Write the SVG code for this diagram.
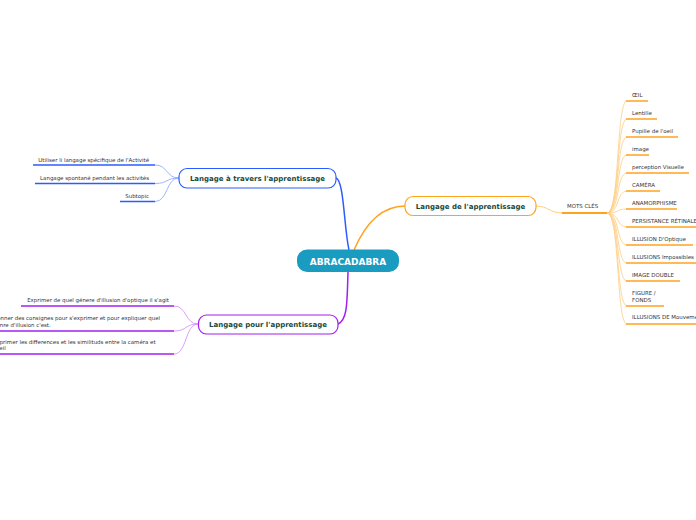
<svg xmlns="http://www.w3.org/2000/svg" width="696" height="520" viewBox="0 0 696 520">
<style>
.leaf{font-family:"DejaVu Sans",Verdana,sans-serif;font-size:5.45px;fill:#333;stroke:none}
.node{font-family:"DejaVu Sans",Verdana,sans-serif;font-size:7px;font-weight:bold;fill:#174a3a;text-anchor:middle;stroke:none}
.c{fill:none}
.bl{stroke:#2b5cff}.bll{stroke:#87a3ff}
.pu{stroke:#a21ff0}.pul{stroke:#cf8af5}
.or{stroke:#ffa31f}.orl{stroke:#ffcd80}
</style>
<rect width="696" height="520" fill="#fff"/>
<g id="connectors">
<path class="c bl" stroke-width="1.5" d="M336,178 C344,180 344,228 349,250"/>
<path class="c or" stroke-width="1.5" d="M354,250 C366,222 382,206 405,206"/>
<path class="c pu" stroke-width="1.5" d="M348,272 C347,300 348,320 338,324"/>
<path class="c orl" stroke-width="1" d="M536,206 C548,206 550,213 562,213"/>
<g class="c orl" stroke-width="0.8">
<path d="M607,213 C620,213 616,101 627,101"/>
<path d="M607,213 C620,213 616,119 627,119"/>
<path d="M607,213 C620,213 616,137 627,137"/>
<path d="M607,213 C620,213 616,155 627,155"/>
<path d="M607,213 C620,213 616,173 627,173"/>
<path d="M607,213 C620,213 616,191 627,191"/>
<path d="M607,213 C620,213 616,209 627,209"/>
<path d="M607,213 C620,213 616,227 627,227"/>
<path d="M607,213 C620,213 616,245 627,245"/>
<path d="M607,213 C620,213 616,263 627,263"/>
<path d="M607,213 C620,213 616,281 627,281"/>
<path d="M607,213 C620,213 616,306 627,306"/>
<path d="M607,213 C620,213 616,324 627,324"/>
</g>
<g class="c bll" stroke-width="0.8">
<path d="M179,178 C166,178 168,165 155,165"/>
<path d="M179,178 C166,178 168,183.5 155,183.5"/>
<path d="M179,178 C166,178 168,201.5 155,201.5"/>
</g>
<g class="c pul" stroke-width="0.8">
<path d="M198,324 C185,324 187,306 174,306"/>
<path d="M198,324 C185,324 187,331 174,331"/>
<path d="M198,324 C185,324 187,354 174,354"/>
</g>
</g>
<g id="root">
<rect x="297" y="249.5" width="102" height="22.5" rx="10" fill="#1a9bc0"/>
<text x="348" y="264.5" font-family="'DejaVu Sans',Verdana,sans-serif" font-size="9" font-weight="bold" fill="#fff" text-anchor="middle">ABRACADABRA</text>
</g>
<g id="n-travers">
<rect x="179" y="168.5" width="157" height="19.5" rx="8" fill="#fff" class="bl" stroke-width="1.2"/>
<text class="node" x="257.5" y="181">Langage à travers l'apprentissage</text>
</g>
<g id="n-pour">
<rect x="198.5" y="315" width="139.5" height="19" rx="8" fill="#fff" class="pu" stroke-width="1.2"/>
<text class="node" x="268" y="327.3">Langage pour l'apprentissage</text>
</g>
<g id="n-de">
<rect x="405" y="196.5" width="131" height="19" rx="8" fill="#fff" class="or" stroke-width="1.2"/>
<text class="node" x="470.5" y="208.8">Langage de l'apprentissage</text>
</g>
<g id="n-motscles">
<text class="leaf" x="567" y="208">MOTS CLÉS</text>
<line x1="562" y1="213" x2="607" y2="213" class="or" stroke-width="2"/>
</g>
<g id="keywords" class="or" stroke-width="1.5">
<g id="k1"><text class="leaf" x="632" y="97">ŒIL</text><line x1="626" y1="101" x2="648" y2="101"/></g>
<g id="k2"><text class="leaf" x="632" y="115">Lentille</text><line x1="626" y1="119" x2="657" y2="119"/></g>
<g id="k3"><text class="leaf" x="632" y="133">Pupille de l'oeil</text><line x1="626" y1="137" x2="678" y2="137"/></g>
<g id="k4"><text class="leaf" x="632" y="151">image</text><line x1="626" y1="155" x2="649" y2="155"/></g>
<g id="k5"><text class="leaf" x="632" y="169">perception Visuelle</text><line x1="626" y1="173" x2="689" y2="173"/></g>
<g id="k6"><text class="leaf" x="632" y="187">CAMÉRA</text><line x1="626" y1="191" x2="660" y2="191"/></g>
<g id="k7"><text class="leaf" x="632" y="205">ANAMORPHISME</text><line x1="626" y1="209" x2="677" y2="209"/></g>
<g id="k8"><text class="leaf" x="632" y="223">PERSISTANCE RÉTINALE</text><line x1="626" y1="227" x2="700" y2="227"/></g>
<g id="k9"><text class="leaf" x="632" y="241">ILLUSION D'Optique</text><line x1="626" y1="245" x2="693" y2="245"/></g>
<g id="k10"><text class="leaf" x="632" y="259">ILLUSIONS Impossibles</text><line x1="626" y1="263" x2="700" y2="263"/></g>
<g id="k11"><text class="leaf" x="632" y="277">IMAGE DOUBLE</text><line x1="626" y1="281" x2="680" y2="281"/></g>
<g id="k12"><text class="leaf" x="632" y="295">FIGURE /</text><text class="leaf" x="632" y="301.5">FONDS</text><line x1="626" y1="306" x2="664" y2="306"/></g>
<g id="k13"><text class="leaf" x="632" y="319">ILLUSIONS DE Mouvement</text><line x1="626" y1="324" x2="700" y2="324"/></g>
</g>
<g id="blue-leaves" class="bl" stroke-width="1.5">
<g id="b1"><text class="leaf" x="149" y="161.5" text-anchor="end">Utiliser li langage spécifique de l'Activité</text><line x1="33" y1="165" x2="155" y2="165"/></g>
<g id="b2"><text class="leaf" x="149" y="180" text-anchor="end">Langage spontané pendant les activités</text><line x1="35" y1="183.5" x2="155" y2="183.5"/></g>
<g id="b3"><text class="leaf" x="149" y="198" text-anchor="end">Subtopic</text><line x1="120" y1="201.5" x2="155" y2="201.5"/></g>
</g>
<g id="purple-leaves" class="pu" stroke-width="1.5">
<g id="p1"><text class="leaf" x="169" y="302" text-anchor="end">Exprimer de quel génere d'illusion d'optique il s'agit</text><line x1="21" y1="306" x2="174" y2="306"/></g>
<g id="p2"><text class="leaf" x="-7" y="320">Donner des consignes pour s'exprimer et pour expliquer quel</text><text class="leaf" x="-7" y="326.5">genre d'illusion c'est.</text><line x1="-5" y1="331" x2="174" y2="331"/></g>
<g id="p3"><text class="leaf" x="-7" y="343.5">Exprimer les differences et les similituds entre la caméra et</text><text class="leaf" x="-7" y="350">l'oeil</text><line x1="-5" y1="354" x2="174" y2="354"/></g>
</g>
</svg>
